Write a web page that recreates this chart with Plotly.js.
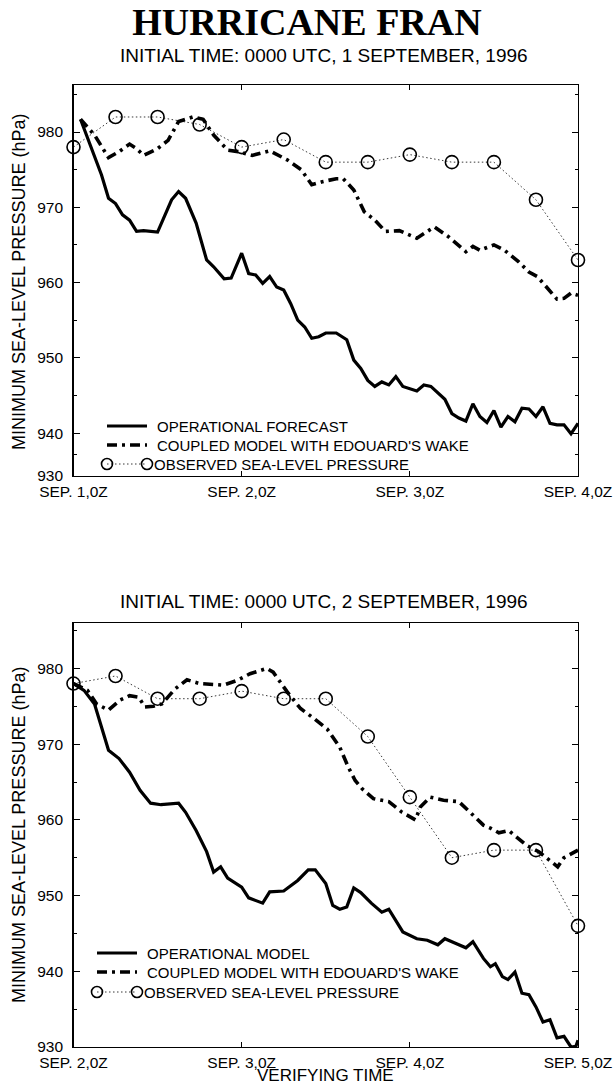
<!DOCTYPE html>
<html><head><meta charset="utf-8">
<script src="https://cdn.plot.ly/plotly-3.0.1.min.js"></script>
<style>html,body{margin:0;padding:0;background:#fff}#chart{width:614px;height:1086px}</style>
</head><body><div id="chart"></div><script>
// ---------- DATA ----------
const xTickVals = [0, 24, 48, 72];
const xTickText1 = ['SEP. 1,0Z', 'SEP. 2,0Z', 'SEP. 3,0Z', 'SEP. 4,0Z'];
const xTickText2 = ['SEP. 2,0Z', 'SEP. 3,0Z', 'SEP. 4,0Z', 'SEP. 5,0Z'];
const yTickText = ['930', '940', '950', '960', '970', '980'];
// top panel of the scanned original is cropped below 940: its bottom edge (labelled 930) sits at ~934.3 on the 980-940 scale
const yTickVals1 = [934.3, 940, 950, 960, 970, 980];
const yTickVals2 = [930, 940, 950, 960, 970, 980];
const obsHours = [0, 6, 12, 18, 24, 30, 36, 42, 48, 54, 60, 66, 72];

// Panel 1: initial time 0000 UTC 1 September 1996
const obs1 = [978, 982, 982, 981, 978, 979, 976, 976, 977, 976, 976, 971, 963];
const op1Hours = [1, 4, 5, 6, 7, 8, 9, 10, 12, 14, 15, 16, 17.5, 19, 20, 21.5, 22.5, 24, 25, 26, 27, 28, 29, 30, 31, 32, 33, 34, 35, 36, 37.5, 39, 40, 41, 42, 43, 44, 45, 46, 47, 49, 50, 51, 52, 53, 54, 55, 56, 57, 58, 59, 60, 61, 62, 63, 64, 65, 66, 67, 68, 69, 70, 71, 72];
const op1 = [981.7, 974.3, 971.2, 970.5, 969, 968.3, 966.8, 966.9, 966.7, 971, 972.1, 971.2, 967.9, 963, 962.1, 960.5, 960.6, 963.9, 961.2, 961, 959.9, 960.8, 959.4, 959, 957.2, 955, 954.1, 952.6, 952.8, 953.3, 953.3, 952.4, 949.7, 948.6, 947, 946.2, 946.8, 946.4, 947.5, 946.2, 945.6, 946.4, 946.2, 945.3, 944.5, 942.6, 942, 941.6, 943.9, 942.2, 941.4, 943, 940.8, 942.2, 941.5, 943.3, 943.2, 942.2, 943.5, 941.3, 941.1, 941.1, 939.9, 941.3];
const cp1Hours = [1, 3, 5, 6.5, 8, 9, 10, 12, 13.5, 15, 17, 18.5, 20, 22, 23.5, 25.5, 28, 30.5, 32.5, 34, 35.5, 37.5, 38.5, 40, 41.5, 43, 44.5, 46.5, 49, 51.5, 53.5, 56, 57, 58, 60, 61.5, 63.5, 65, 66.2, 67.7, 69, 70, 71, 72];
const cp1 = [981.7, 979.6, 976.6, 977.4, 978.4, 977.8, 976.9, 977.8, 978.9, 981.4, 982, 981.7, 979.6, 977.6, 977.4, 976.9, 977.5, 976.3, 975, 973, 973.4, 973.8, 973.8, 972.3, 969.4, 968.3, 966.8, 966.9, 965.9, 967.4, 966.1, 964.1, 964.8, 964.3, 965, 964.3, 962.8, 961.4, 960.8, 959.2, 957.8, 957.9, 958.6, 958.3];

// Panel 2: initial time 0000 UTC 2 September 1996
const obs2 = [978, 979, 976, 976, 977, 976, 976, 971, 963, 955, 956, 956, 946];
const op2Hours = [0, 1.5, 3, 4, 5, 6.5, 8, 9.5, 11, 12.5, 15, 16, 17.5, 19, 20, 21, 22, 24, 25, 27, 28, 30, 32, 33.5, 34.5, 36, 37, 38, 39, 40, 41, 42.5, 44, 45, 47, 49, 50.5, 52, 53, 54.5, 56, 57, 58.5, 59.5, 60.2, 61.2, 62, 63, 64, 65, 66, 67, 68, 69, 70, 71, 71.7, 72];
const op2 = [978, 977.1, 975.3, 972.3, 969.2, 968.1, 966.3, 963.9, 962.2, 962, 962.2, 961, 958.6, 955.8, 953.1, 953.8, 952.3, 951.1, 949.7, 949, 950.5, 950.6, 952, 953.4, 953.4, 951.6, 948.7, 948.2, 948.5, 951, 950.4, 949, 947.8, 948.2, 945.2, 944.3, 944.1, 943.5, 944.3, 943.7, 943.1, 943.9, 941.7, 940.6, 941, 939.3, 938.9, 939.9, 937.1, 936.9, 935.3, 933.3, 933.6, 931.2, 931.4, 930, 930.1, 930.9];
const cp2Hours = [0, 2, 3.3, 5, 6.6, 8, 9.3, 10.2, 11.4, 12.6, 14.5, 16.2, 18, 19.5, 21.4, 23.3, 25.2, 27.6, 28.5, 30.5, 32.4, 34.3, 36.2, 38, 39.2, 40.2, 41.2, 42.8, 45, 46.9, 48.8, 49.5, 50.9, 52.8, 55, 56.6, 58.5, 59.5, 60.7, 62.1, 64.7, 66.4, 67.8, 69.1, 70, 72];
const cp2 = [978, 977.1, 975.3, 974.5, 975.8, 976.4, 976.2, 974.9, 975, 975.3, 977.3, 978.5, 978, 977.9, 977.8, 978.4, 979.3, 980, 979.5, 976.9, 974.7, 973.4, 972, 969.6, 967, 965.2, 964.1, 962.8, 962.4, 961, 960, 961.7, 963, 962.6, 962.4, 961, 959.3, 958.9, 958.3, 958.6, 956.6, 955.8, 954.8, 953.8, 955, 956];

const legend1 = ['OPERATIONAL FORECAST', "COUPLED MODEL WITH EDOUARD'S WAKE", 'OBSERVED SEA-LEVEL PRESSURE'];
const legend2 = ['OPERATIONAL MODEL', "COUPLED MODEL WITH EDOUARD'S WAKE", 'OBSERVED SEA-LEVEL PRESSURE'];

// ---------- LAYOUT HELPERS ----------
const W = 614, H = 1086;
const px = x => x / W, py = y => 1 - y / H;
const SANS = 'Liberation Sans, Arial, Helvetica, sans-serif';
const BLACK = '#000';
const DASHDOT = '10px,5px,3px,5px';
const OBSDOT = '1.5px,2.5px';

function lineTrace(x, y, xa, ya, style) {
  const t = {x: x, y: y, xaxis: xa, yaxis: ya, type: 'scatter', showlegend: false, hoverinfo: 'skip'};
  if (style === 'op') { t.mode = 'lines'; t.line = {color: BLACK, width: 3.2}; }
  else if (style === 'cp') { t.mode = 'lines'; t.line = {color: BLACK, width: 3.6, dash: DASHDOT}; }
  else { t.mode = 'lines+markers'; t.line = {color: '#222', width: 0.9, dash: OBSDOT};
         t.marker = {symbol: 'circle-open', size: 13, color: BLACK, line: {width: 1.6, color: BLACK}}; t.cliponaxis = false; }
  return t;
}

const data = [
  lineTrace(obsHours, obs1, 'x', 'y', 'obs'),
  lineTrace(op1Hours, op1, 'x', 'y', 'op'),
  lineTrace(cp1Hours, cp1, 'x', 'y', 'cp'),
  lineTrace(obsHours, obs2, 'x2', 'y2', 'obs'),
  lineTrace(op2Hours, op2, 'x2', 'y2', 'op'),
  lineTrace(cp2Hours, cp2, 'x2', 'y2', 'cp')
];

function xAxis(ticktext, anchor) {
  return {
    domain: [px(73.5), px(578)], anchor: anchor, range: [0, 72],
    tickmode: 'array', tickvals: xTickVals, ticktext: ticktext,
    ticks: 'inside', ticklen: 5, tickwidth: 1, tickcolor: BLACK,
    showline: true, linecolor: BLACK, linewidth: 1.3, mirror: 'ticks',
    showgrid: false, zeroline: false, ticklabelstandoff: 1,
    tickfont: {family: SANS, size: 15.5, color: BLACK}
  };
}
function yAxis(top, bottom, anchor, range, tickvals, minorvals) {
  return {
    domain: [py(bottom), py(top)], anchor: anchor, range: range,
    tickmode: 'array', tickvals: tickvals, ticktext: yTickText,
    ticks: 'inside', ticklen: 6, tickwidth: 1, tickcolor: BLACK,
    minor: {tickmode: 'array', tickvals: minorvals, ticks: 'inside', ticklen: 3.5, tickwidth: 1, tickcolor: BLACK},
    showline: true, linecolor: BLACK, linewidth: 1.3, mirror: 'ticks',
    showgrid: false, zeroline: false, ticklabelstandoff: 6,
    tickfont: {family: SANS, size: 15.5, color: BLACK}
  };
}

// ---------- LEGEND (drawn as shapes + text) ----------
const shapes = [], annotations = [];
function addLegend(rows, x0, x1, labels) {
  const styles = ['op', 'cp', 'obs'];
  rows.forEach((r, i) => {
    const s = styles[i];
    const ln = s === 'op' ? {color: BLACK, width: 3.2}
             : s === 'cp' ? {color: BLACK, width: 3.6, dash: DASHDOT}
             : {color: '#222', width: 0.9, dash: OBSDOT};
    shapes.push({type: 'line', xref: 'paper', yref: 'paper', x0: px(x0), x1: px(x1), y0: py(r), y1: py(r), line: ln});
    if (s === 'obs') {
      [x0, x1].forEach(cx => shapes.push({type: 'circle', xref: 'paper', yref: 'paper',
        x0: px(cx - 5.5), x1: px(cx + 5.5), y0: py(r + 5.5), y1: py(r - 5.5),
        line: {color: BLACK, width: 1.6}, fillcolor: 'rgba(0,0,0,0)'}));
    }
    annotations.push({xref: 'paper', yref: 'paper', x: px(x1 + (s === 'obs' ? 5 : 8)), y: py(r),
      xanchor: 'left', yanchor: 'middle', showarrow: false, text: labels[i],
      font: {family: SANS, size: 15, color: BLACK}});
  });
}
addLegend([426, 445, 464], 107, 147, legend1);
addLegend([953, 972, 992], 97, 137, legend2);

// ---------- TEXT ----------
annotations.push(
  {xref: 'paper', yref: 'paper', x: px(324), y: py(55), xanchor: 'center', yanchor: 'middle', showarrow: false,
   text: 'INITIAL TIME: 0000 UTC, 1 SEPTEMBER, 1996', font: {family: SANS, size: 19, color: BLACK}},
  {xref: 'paper', yref: 'paper', x: px(324), y: py(601), xanchor: 'center', yanchor: 'middle', showarrow: false,
   text: 'INITIAL TIME: 0000 UTC, 2 SEPTEMBER, 1996', font: {family: SANS, size: 19, color: BLACK}},
  {xref: 'paper', yref: 'paper', x: px(19), y: py(282), xanchor: 'center', yanchor: 'middle', showarrow: false, textangle: -90,
   text: 'MINIMUM SEA-LEVEL PRESSURE (hPa)', font: {family: SANS, size: 18, color: BLACK}},
  {xref: 'paper', yref: 'paper', x: px(19), y: py(835), xanchor: 'center', yanchor: 'middle', showarrow: false, textangle: -90,
   text: 'MINIMUM SEA-LEVEL PRESSURE (hPa)', font: {family: SANS, size: 18, color: BLACK}},
  {xref: 'paper', yref: 'paper', x: px(325), y: py(1075), xanchor: 'center', yanchor: 'middle', showarrow: false,
   text: 'VERIFYING TIME', font: {family: SANS, size: 17, color: BLACK}}
);

const layout = {
  width: W, height: H, margin: {l: 0, r: 0, t: 0, b: 0},
  paper_bgcolor: '#fff', plot_bgcolor: '#fff', showlegend: false,
  title: {text: '<b>HURRICANE FRAN</b>', x: 0.5, xanchor: 'center', y: py(22), yanchor: 'middle',
          font: {family: 'Liberation Serif, Times New Roman, serif', size: 38, color: BLACK}},
  xaxis: xAxis(xTickText1, 'y'),
  yaxis: yAxis(85, 476, 'x', [934.3, 986.25], yTickVals1, [937.15, 945, 955, 965, 975, 985]),
  xaxis2: xAxis(xTickText2, 'y2'),
  yaxis2: yAxis(623, 1047, 'x2', [930, 986], yTickVals2, [935, 945, 955, 965, 975, 985]),
  shapes: shapes, annotations: annotations
};

Plotly.newPlot('chart', data, layout, {staticPlot: true, displayModeBar: false});
</script></body></html>
